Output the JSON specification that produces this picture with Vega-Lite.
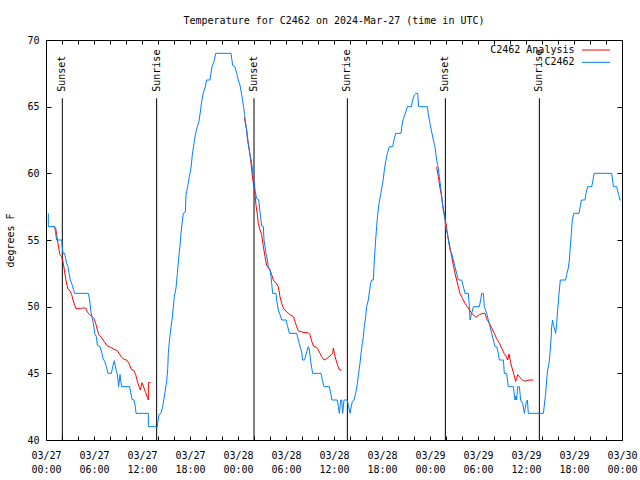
{
  "$schema": "https://vega.github.io/schema/vega-lite/v6.json",
  "width": 576,
  "height": 400,
  "autosize": {"type": "none"},
  "padding": {"left": 46, "top": 40, "right": 18, "bottom": 40},
  "background": "white",
  "title": {"text": "Temperature for C2462 on 2024-Mar-27 (time in UTC)", "font": "DejaVu Sans Mono", "fontSize": 10, "fontWeight": "normal", "color": "black", "anchor": "middle", "baseline": "alphabetic", "offset": 1},
  "config": {
    "view": {"stroke": "black", "strokeWidth": 1},
    "font": "DejaVu Sans Mono",
    "axis": {"labelFont": "DejaVu Sans Mono", "labelFontSize": 10, "labelColor": "black", "tickColor": "black", "domain": false, "grid": false, "titleFont": "DejaVu Sans Mono", "titleFontSize": 10, "titleFontWeight": "normal", "titleColor": "black"}
  },
  "datasets": {
    "sun": [
      {"hour": 2.04, "event": "Sunset"},
      {"hour": 13.83, "event": "Sunrise"},
      {"hour": 26.0, "event": "Sunset"},
      {"hour": 37.67, "event": "Sunrise"},
      {"hour": 49.92, "event": "Sunset"},
      {"hour": 61.67, "event": "Sunrise"}
    ],
    "obs": [
      {"series": "C2462 Analysis", "night": 1, "hour": 0.79, "temp": 56.05},
      {"series": "C2462 Analysis", "night": 1, "hour": 1.21, "temp": 55.9},
      {"series": "C2462 Analysis", "night": 1, "hour": 1.33, "temp": 55.4},
      {"series": "C2462 Analysis", "night": 1, "hour": 1.5, "temp": 54.75},
      {"series": "C2462 Analysis", "night": 1, "hour": 1.625, "temp": 54.25},
      {"series": "C2462 Analysis", "night": 1, "hour": 1.75, "temp": 53.9},
      {"series": "C2462 Analysis", "night": 1, "hour": 1.96, "temp": 53.75},
      {"series": "C2462 Analysis", "night": 1, "hour": 2.17, "temp": 53.25},
      {"series": "C2462 Analysis", "night": 1, "hour": 2.33, "temp": 52.6},
      {"series": "C2462 Analysis", "night": 1, "hour": 2.46, "temp": 52.1},
      {"series": "C2462 Analysis", "night": 1, "hour": 2.625, "temp": 51.6},
      {"series": "C2462 Analysis", "night": 1, "hour": 2.75, "temp": 51.3},
      {"series": "C2462 Analysis", "night": 1, "hour": 3.0, "temp": 51.2},
      {"series": "C2462 Analysis", "night": 1, "hour": 3.21, "temp": 50.9},
      {"series": "C2462 Analysis", "night": 1, "hour": 3.375, "temp": 50.5},
      {"series": "C2462 Analysis", "night": 1, "hour": 3.58, "temp": 50.1},
      {"series": "C2462 Analysis", "night": 1, "hour": 3.75, "temp": 49.85},
      {"series": "C2462 Analysis", "night": 1, "hour": 4.33, "temp": 49.85},
      {"series": "C2462 Analysis", "night": 1, "hour": 4.54, "temp": 49.9},
      {"series": "C2462 Analysis", "night": 1, "hour": 4.96, "temp": 49.9},
      {"series": "C2462 Analysis", "night": 1, "hour": 5.17, "temp": 49.6},
      {"series": "C2462 Analysis", "night": 1, "hour": 5.46, "temp": 49.4},
      {"series": "C2462 Analysis", "night": 1, "hour": 5.79, "temp": 49.25},
      {"series": "C2462 Analysis", "night": 1, "hour": 6.0, "temp": 49.1},
      {"series": "C2462 Analysis", "night": 1, "hour": 6.21, "temp": 48.75},
      {"series": "C2462 Analysis", "night": 1, "hour": 6.42, "temp": 48.25},
      {"series": "C2462 Analysis", "night": 1, "hour": 6.625, "temp": 47.9},
      {"series": "C2462 Analysis", "night": 1, "hour": 6.92, "temp": 47.7},
      {"series": "C2462 Analysis", "night": 1, "hour": 7.25, "temp": 47.4},
      {"series": "C2462 Analysis", "night": 1, "hour": 7.67, "temp": 47.05},
      {"series": "C2462 Analysis", "night": 1, "hour": 8.08, "temp": 46.95},
      {"series": "C2462 Analysis", "night": 1, "hour": 8.5, "temp": 46.8},
      {"series": "C2462 Analysis", "night": 1, "hour": 8.92, "temp": 46.7},
      {"series": "C2462 Analysis", "night": 1, "hour": 9.125, "temp": 46.5},
      {"series": "C2462 Analysis", "night": 1, "hour": 9.46, "temp": 46.2},
      {"series": "C2462 Analysis", "night": 1, "hour": 9.75, "temp": 46.05},
      {"series": "C2462 Analysis", "night": 1, "hour": 10.08, "temp": 46.0},
      {"series": "C2462 Analysis", "night": 1, "hour": 10.375, "temp": 45.75},
      {"series": "C2462 Analysis", "night": 1, "hour": 10.67, "temp": 45.3},
      {"series": "C2462 Analysis", "night": 1, "hour": 11.0, "temp": 45.2},
      {"series": "C2462 Analysis", "night": 1, "hour": 11.21, "temp": 44.9},
      {"series": "C2462 Analysis", "night": 1, "hour": 11.42, "temp": 44.4},
      {"series": "C2462 Analysis", "night": 1, "hour": 11.625, "temp": 44.0},
      {"series": "C2462 Analysis", "night": 1, "hour": 11.79, "temp": 43.75},
      {"series": "C2462 Analysis", "night": 1, "hour": 12.0, "temp": 44.3},
      {"series": "C2462 Analysis", "night": 1, "hour": 12.25, "temp": 43.9},
      {"series": "C2462 Analysis", "night": 1, "hour": 12.46, "temp": 43.55},
      {"series": "C2462 Analysis", "night": 1, "hour": 12.67, "temp": 43.2},
      {"series": "C2462 Analysis", "night": 1, "hour": 12.79, "temp": 43.0},
      {"series": "C2462 Analysis", "night": 1, "hour": 12.8, "temp": 44.3},
      {"series": "C2462 Analysis", "night": 1, "hour": 13.08, "temp": 44.3},
      {"series": "C2462 Analysis", "night": 2, "hour": 24.79, "temp": 64.2},
      {"series": "C2462 Analysis", "night": 2, "hour": 25.08, "temp": 63.25},
      {"series": "C2462 Analysis", "night": 2, "hour": 25.29, "temp": 62.25},
      {"series": "C2462 Analysis", "night": 2, "hour": 25.5, "temp": 61.4},
      {"series": "C2462 Analysis", "night": 2, "hour": 25.71, "temp": 60.3},
      {"series": "C2462 Analysis", "night": 2, "hour": 25.83, "temp": 59.6},
      {"series": "C2462 Analysis", "night": 2, "hour": 26.0, "temp": 59.0},
      {"series": "C2462 Analysis", "night": 2, "hour": 26.125, "temp": 58.4},
      {"series": "C2462 Analysis", "night": 2, "hour": 26.25, "temp": 57.6},
      {"series": "C2462 Analysis", "night": 2, "hour": 26.42, "temp": 56.9},
      {"series": "C2462 Analysis", "night": 2, "hour": 26.54, "temp": 56.25},
      {"series": "C2462 Analysis", "night": 2, "hour": 26.75, "temp": 55.75},
      {"series": "C2462 Analysis", "night": 2, "hour": 26.96, "temp": 55.4},
      {"series": "C2462 Analysis", "night": 2, "hour": 27.17, "temp": 54.5},
      {"series": "C2462 Analysis", "night": 2, "hour": 27.375, "temp": 53.75},
      {"series": "C2462 Analysis", "night": 2, "hour": 27.58, "temp": 53.1},
      {"series": "C2462 Analysis", "night": 2, "hour": 27.79, "temp": 52.9},
      {"series": "C2462 Analysis", "night": 2, "hour": 28.0, "temp": 52.75},
      {"series": "C2462 Analysis", "night": 2, "hour": 28.21, "temp": 52.4},
      {"series": "C2462 Analysis", "night": 2, "hour": 28.42, "temp": 52.0},
      {"series": "C2462 Analysis", "night": 2, "hour": 28.83, "temp": 51.7},
      {"series": "C2462 Analysis", "night": 2, "hour": 29.04, "temp": 51.5},
      {"series": "C2462 Analysis", "night": 2, "hour": 29.25, "temp": 50.75},
      {"series": "C2462 Analysis", "night": 2, "hour": 29.46, "temp": 50.25},
      {"series": "C2462 Analysis", "night": 2, "hour": 29.67, "temp": 49.9},
      {"series": "C2462 Analysis", "night": 2, "hour": 30.08, "temp": 49.6},
      {"series": "C2462 Analysis", "night": 2, "hour": 30.5, "temp": 49.4},
      {"series": "C2462 Analysis", "night": 2, "hour": 30.92, "temp": 49.25},
      {"series": "C2462 Analysis", "night": 2, "hour": 31.125, "temp": 48.9},
      {"series": "C2462 Analysis", "night": 2, "hour": 31.33, "temp": 48.5},
      {"series": "C2462 Analysis", "night": 2, "hour": 31.54, "temp": 48.2},
      {"series": "C2462 Analysis", "night": 2, "hour": 31.96, "temp": 48.1},
      {"series": "C2462 Analysis", "night": 2, "hour": 32.375, "temp": 48.05},
      {"series": "C2462 Analysis", "night": 2, "hour": 32.79, "temp": 48.05},
      {"series": "C2462 Analysis", "night": 2, "hour": 33.0, "temp": 47.9},
      {"series": "C2462 Analysis", "night": 2, "hour": 33.21, "temp": 47.4},
      {"series": "C2462 Analysis", "night": 2, "hour": 33.42, "temp": 47.05},
      {"series": "C2462 Analysis", "night": 2, "hour": 33.83, "temp": 46.95},
      {"series": "C2462 Analysis", "night": 2, "hour": 34.04, "temp": 46.75},
      {"series": "C2462 Analysis", "night": 2, "hour": 34.25, "temp": 46.5},
      {"series": "C2462 Analysis", "night": 2, "hour": 34.46, "temp": 46.25},
      {"series": "C2462 Analysis", "night": 2, "hour": 34.75, "temp": 46.0},
      {"series": "C2462 Analysis", "night": 2, "hour": 35.08, "temp": 46.1},
      {"series": "C2462 Analysis", "night": 2, "hour": 35.5, "temp": 46.3},
      {"series": "C2462 Analysis", "night": 2, "hour": 35.83, "temp": 46.5},
      {"series": "C2462 Analysis", "night": 2, "hour": 35.92, "temp": 46.9},
      {"series": "C2462 Analysis", "night": 2, "hour": 36.04, "temp": 46.5},
      {"series": "C2462 Analysis", "night": 2, "hour": 36.25, "temp": 46.0},
      {"series": "C2462 Analysis", "night": 2, "hour": 36.46, "temp": 45.6},
      {"series": "C2462 Analysis", "night": 2, "hour": 36.67, "temp": 45.25},
      {"series": "C2462 Analysis", "night": 2, "hour": 36.96, "temp": 45.25},
      {"series": "C2462 Analysis", "night": 3, "hour": 48.83, "temp": 60.5},
      {"series": "C2462 Analysis", "night": 3, "hour": 49.04, "temp": 59.75},
      {"series": "C2462 Analysis", "night": 3, "hour": 49.25, "temp": 58.9},
      {"series": "C2462 Analysis", "night": 3, "hour": 49.46, "temp": 58.25},
      {"series": "C2462 Analysis", "night": 3, "hour": 49.67, "temp": 57.2},
      {"series": "C2462 Analysis", "night": 3, "hour": 49.875, "temp": 56.6},
      {"series": "C2462 Analysis", "night": 3, "hour": 50.0, "temp": 56.25},
      {"series": "C2462 Analysis", "night": 3, "hour": 50.17, "temp": 55.5},
      {"series": "C2462 Analysis", "night": 3, "hour": 50.42, "temp": 54.7},
      {"series": "C2462 Analysis", "night": 3, "hour": 50.71, "temp": 53.75},
      {"series": "C2462 Analysis", "night": 3, "hour": 50.92, "temp": 53.1},
      {"series": "C2462 Analysis", "night": 3, "hour": 51.125, "temp": 52.5},
      {"series": "C2462 Analysis", "night": 3, "hour": 51.33, "temp": 52.0},
      {"series": "C2462 Analysis", "night": 3, "hour": 51.54, "temp": 51.5},
      {"series": "C2462 Analysis", "night": 3, "hour": 51.75, "temp": 51.0},
      {"series": "C2462 Analysis", "night": 3, "hour": 52.08, "temp": 50.6},
      {"series": "C2462 Analysis", "night": 3, "hour": 52.375, "temp": 50.25},
      {"series": "C2462 Analysis", "night": 3, "hour": 52.79, "temp": 49.9},
      {"series": "C2462 Analysis", "night": 3, "hour": 53.21, "temp": 49.5},
      {"series": "C2462 Analysis", "night": 3, "hour": 53.75, "temp": 49.2},
      {"series": "C2462 Analysis", "night": 3, "hour": 54.17, "temp": 49.4},
      {"series": "C2462 Analysis", "night": 3, "hour": 54.58, "temp": 49.5},
      {"series": "C2462 Analysis", "night": 3, "hour": 54.875, "temp": 49.5},
      {"series": "C2462 Analysis", "night": 3, "hour": 55.08, "temp": 49.1},
      {"series": "C2462 Analysis", "night": 3, "hour": 55.42, "temp": 48.75},
      {"series": "C2462 Analysis", "night": 3, "hour": 55.71, "temp": 48.4},
      {"series": "C2462 Analysis", "night": 3, "hour": 56.04, "temp": 48.0},
      {"series": "C2462 Analysis", "night": 3, "hour": 56.33, "temp": 47.6},
      {"series": "C2462 Analysis", "night": 3, "hour": 56.67, "temp": 47.25},
      {"series": "C2462 Analysis", "night": 3, "hour": 56.96, "temp": 46.9},
      {"series": "C2462 Analysis", "night": 3, "hour": 57.25, "temp": 46.5},
      {"series": "C2462 Analysis", "night": 3, "hour": 57.5, "temp": 46.3},
      {"series": "C2462 Analysis", "night": 3, "hour": 57.71, "temp": 46.0},
      {"series": "C2462 Analysis", "night": 3, "hour": 57.875, "temp": 46.45},
      {"series": "C2462 Analysis", "night": 3, "hour": 58.08, "temp": 45.8},
      {"series": "C2462 Analysis", "night": 3, "hour": 58.33, "temp": 45.25},
      {"series": "C2462 Analysis", "night": 3, "hour": 58.5, "temp": 44.9},
      {"series": "C2462 Analysis", "night": 3, "hour": 58.71, "temp": 44.4},
      {"series": "C2462 Analysis", "night": 3, "hour": 58.83, "temp": 44.6},
      {"series": "C2462 Analysis", "night": 3, "hour": 58.96, "temp": 44.9},
      {"series": "C2462 Analysis", "night": 3, "hour": 59.17, "temp": 44.75},
      {"series": "C2462 Analysis", "night": 3, "hour": 59.46, "temp": 44.55},
      {"series": "C2462 Analysis", "night": 3, "hour": 59.79, "temp": 44.4},
      {"series": "C2462 Analysis", "night": 3, "hour": 60.08, "temp": 44.45},
      {"series": "C2462 Analysis", "night": 3, "hour": 60.5, "temp": 44.5},
      {"series": "C2462 Analysis", "night": 3, "hour": 60.92, "temp": 44.5},
      {"series": "C2462", "night": 0, "hour": 0.29, "temp": 57.0},
      {"series": "C2462", "night": 0, "hour": 0.29, "temp": 56.0},
      {"series": "C2462", "night": 0, "hour": 1.08, "temp": 56.0},
      {"series": "C2462", "night": 0, "hour": 1.2, "temp": 55.5},
      {"series": "C2462", "night": 0, "hour": 1.33, "temp": 55.0},
      {"series": "C2462", "night": 0, "hour": 1.96, "temp": 55.0},
      {"series": "C2462", "night": 0, "hour": 2.04, "temp": 54.5},
      {"series": "C2462", "night": 0, "hour": 2.13, "temp": 54.0},
      {"series": "C2462", "night": 0, "hour": 2.33, "temp": 54.0},
      {"series": "C2462", "night": 0, "hour": 2.46, "temp": 53.6},
      {"series": "C2462", "night": 0, "hour": 2.58, "temp": 53.25},
      {"series": "C2462", "night": 0, "hour": 2.75, "temp": 53.0},
      {"series": "C2462", "night": 0, "hour": 2.88, "temp": 52.5},
      {"series": "C2462", "night": 0, "hour": 3.04, "temp": 52.0},
      {"series": "C2462", "night": 0, "hour": 3.29, "temp": 51.6},
      {"series": "C2462", "night": 0, "hour": 3.42, "temp": 51.3},
      {"series": "C2462", "night": 0, "hour": 3.58, "temp": 51.0},
      {"series": "C2462", "night": 0, "hour": 5.29, "temp": 51.0},
      {"series": "C2462", "night": 0, "hour": 5.46, "temp": 50.5},
      {"series": "C2462", "night": 0, "hour": 5.58, "temp": 49.75},
      {"series": "C2462", "night": 0, "hour": 5.75, "temp": 49.2},
      {"series": "C2462", "night": 0, "hour": 5.92, "temp": 48.75},
      {"series": "C2462", "night": 0, "hour": 6.0, "temp": 48.4},
      {"series": "C2462", "night": 0, "hour": 6.08, "temp": 48.0},
      {"series": "C2462", "night": 0, "hour": 6.29, "temp": 47.75},
      {"series": "C2462", "night": 0, "hour": 6.42, "temp": 47.1},
      {"series": "C2462", "night": 0, "hour": 6.75, "temp": 47.0},
      {"series": "C2462", "night": 0, "hour": 6.96, "temp": 46.6},
      {"series": "C2462", "night": 0, "hour": 7.13, "temp": 46.1},
      {"series": "C2462", "night": 0, "hour": 7.33, "temp": 45.9},
      {"series": "C2462", "night": 0, "hour": 7.54, "temp": 45.5},
      {"series": "C2462", "night": 0, "hour": 7.75, "temp": 45.0},
      {"series": "C2462", "night": 0, "hour": 8.17, "temp": 45.0},
      {"series": "C2462", "night": 0, "hour": 8.38, "temp": 45.6},
      {"series": "C2462", "night": 0, "hour": 8.54, "temp": 45.95},
      {"series": "C2462", "night": 0, "hour": 8.71, "temp": 45.4},
      {"series": "C2462", "night": 0, "hour": 8.88, "temp": 45.0},
      {"series": "C2462", "night": 0, "hour": 9.0, "temp": 44.5},
      {"series": "C2462", "night": 0, "hour": 9.08, "temp": 44.0},
      {"series": "C2462", "night": 0, "hour": 9.25, "temp": 44.9},
      {"series": "C2462", "night": 0, "hour": 9.375, "temp": 44.3},
      {"series": "C2462", "night": 0, "hour": 9.46, "temp": 44.0},
      {"series": "C2462", "night": 0, "hour": 10.46, "temp": 44.0},
      {"series": "C2462", "night": 0, "hour": 10.58, "temp": 43.6},
      {"series": "C2462", "night": 0, "hour": 10.75, "temp": 43.05},
      {"series": "C2462", "night": 0, "hour": 11.0, "temp": 43.0},
      {"series": "C2462", "night": 0, "hour": 11.17, "temp": 42.5},
      {"series": "C2462", "night": 0, "hour": 11.25, "temp": 42.0},
      {"series": "C2462", "night": 0, "hour": 12.79, "temp": 42.0},
      {"series": "C2462", "night": 0, "hour": 12.8, "temp": 41.0},
      {"series": "C2462", "night": 0, "hour": 13.92, "temp": 41.0},
      {"series": "C2462", "night": 0, "hour": 13.95, "temp": 41.25},
      {"series": "C2462", "night": 0, "hour": 14.125, "temp": 41.9},
      {"series": "C2462", "night": 0, "hour": 14.375, "temp": 42.0},
      {"series": "C2462", "night": 0, "hour": 14.58, "temp": 42.5},
      {"series": "C2462", "night": 0, "hour": 14.75, "temp": 43.1},
      {"series": "C2462", "night": 0, "hour": 14.92, "temp": 43.75},
      {"series": "C2462", "night": 0, "hour": 15.08, "temp": 44.4},
      {"series": "C2462", "night": 0, "hour": 15.21, "temp": 45.25},
      {"series": "C2462", "night": 0, "hour": 15.29, "temp": 46.5},
      {"series": "C2462", "night": 0, "hour": 15.42, "temp": 47.4},
      {"series": "C2462", "night": 0, "hour": 15.58, "temp": 48.25},
      {"series": "C2462", "night": 0, "hour": 15.75, "temp": 49.0},
      {"series": "C2462", "night": 0, "hour": 15.875, "temp": 49.75},
      {"series": "C2462", "night": 0, "hour": 16.04, "temp": 50.75},
      {"series": "C2462", "night": 0, "hour": 16.25, "temp": 51.4},
      {"series": "C2462", "night": 0, "hour": 16.42, "temp": 52.5},
      {"series": "C2462", "night": 0, "hour": 16.58, "temp": 53.6},
      {"series": "C2462", "night": 0, "hour": 16.75, "temp": 54.6},
      {"series": "C2462", "night": 0, "hour": 16.875, "temp": 55.5},
      {"series": "C2462", "night": 0, "hour": 17.04, "temp": 56.4},
      {"series": "C2462", "night": 0, "hour": 17.17, "temp": 57.0},
      {"series": "C2462", "night": 0, "hour": 17.42, "temp": 57.1},
      {"series": "C2462", "night": 0, "hour": 17.5, "temp": 58.4},
      {"series": "C2462", "night": 0, "hour": 17.71, "temp": 59.0},
      {"series": "C2462", "night": 0, "hour": 17.92, "temp": 59.75},
      {"series": "C2462", "night": 0, "hour": 18.125, "temp": 60.4},
      {"series": "C2462", "night": 0, "hour": 18.29, "temp": 61.4},
      {"series": "C2462", "night": 0, "hour": 18.5, "temp": 62.25},
      {"series": "C2462", "night": 0, "hour": 18.67, "temp": 62.9},
      {"series": "C2462", "night": 0, "hour": 18.92, "temp": 63.5},
      {"series": "C2462", "night": 0, "hour": 19.125, "temp": 63.9},
      {"series": "C2462", "night": 0, "hour": 19.29, "temp": 64.6},
      {"series": "C2462", "night": 0, "hour": 19.46, "temp": 65.4},
      {"series": "C2462", "night": 0, "hour": 19.67, "temp": 66.05},
      {"series": "C2462", "night": 0, "hour": 19.875, "temp": 66.4},
      {"series": "C2462", "night": 0, "hour": 20.08, "temp": 67.0},
      {"series": "C2462", "night": 0, "hour": 20.5, "temp": 67.0},
      {"series": "C2462", "night": 0, "hour": 20.75, "temp": 68.0},
      {"series": "C2462", "night": 0, "hour": 21.0, "temp": 68.4},
      {"series": "C2462", "night": 0, "hour": 21.21, "temp": 69.0},
      {"series": "C2462", "night": 0, "hour": 23.125, "temp": 69.0},
      {"series": "C2462", "night": 0, "hour": 23.33, "temp": 68.1},
      {"series": "C2462", "night": 0, "hour": 23.625, "temp": 68.0},
      {"series": "C2462", "night": 0, "hour": 23.83, "temp": 67.5},
      {"series": "C2462", "night": 0, "hour": 24.04, "temp": 67.0},
      {"series": "C2462", "night": 0, "hour": 24.25, "temp": 66.6},
      {"series": "C2462", "night": 0, "hour": 24.46, "temp": 65.9},
      {"series": "C2462", "night": 0, "hour": 24.67, "temp": 65.1},
      {"series": "C2462", "night": 0, "hour": 24.83, "temp": 64.4},
      {"series": "C2462", "night": 0, "hour": 24.92, "temp": 63.9},
      {"series": "C2462", "night": 0, "hour": 25.08, "temp": 63.25},
      {"series": "C2462", "night": 0, "hour": 25.17, "temp": 62.6},
      {"series": "C2462", "night": 0, "hour": 25.33, "temp": 62.0},
      {"series": "C2462", "night": 0, "hour": 25.5, "temp": 61.4},
      {"series": "C2462", "night": 0, "hour": 25.71, "temp": 60.75},
      {"series": "C2462", "night": 0, "hour": 25.92, "temp": 59.75},
      {"series": "C2462", "night": 0, "hour": 26.04, "temp": 59.3},
      {"series": "C2462", "night": 0, "hour": 26.125, "temp": 58.75},
      {"series": "C2462", "night": 0, "hour": 26.33, "temp": 58.1},
      {"series": "C2462", "night": 0, "hour": 26.6, "temp": 58.0},
      {"series": "C2462", "night": 0, "hour": 26.75, "temp": 57.1},
      {"series": "C2462", "night": 0, "hour": 26.875, "temp": 56.5},
      {"series": "C2462", "night": 0, "hour": 26.96, "temp": 56.05},
      {"series": "C2462", "night": 0, "hour": 27.17, "temp": 56.0},
      {"series": "C2462", "night": 0, "hour": 27.25, "temp": 55.0},
      {"series": "C2462", "night": 0, "hour": 27.375, "temp": 54.5},
      {"series": "C2462", "night": 0, "hour": 27.5, "temp": 54.0},
      {"series": "C2462", "night": 0, "hour": 27.67, "temp": 53.5},
      {"series": "C2462", "night": 0, "hour": 27.79, "temp": 53.0},
      {"series": "C2462", "night": 0, "hour": 28.0, "temp": 52.75},
      {"series": "C2462", "night": 0, "hour": 28.125, "temp": 52.25},
      {"series": "C2462", "night": 0, "hour": 28.21, "temp": 51.75},
      {"series": "C2462", "night": 0, "hour": 28.33, "temp": 51.0},
      {"series": "C2462", "night": 0, "hour": 28.75, "temp": 51.0},
      {"series": "C2462", "night": 0, "hour": 28.83, "temp": 50.5},
      {"series": "C2462", "night": 0, "hour": 29.04, "temp": 49.75},
      {"series": "C2462", "night": 0, "hour": 29.25, "temp": 49.4},
      {"series": "C2462", "night": 0, "hour": 29.46, "temp": 49.0},
      {"series": "C2462", "night": 0, "hour": 30.0, "temp": 49.0},
      {"series": "C2462", "night": 0, "hour": 30.17, "temp": 48.6},
      {"series": "C2462", "night": 0, "hour": 30.42, "temp": 48.0},
      {"series": "C2462", "night": 0, "hour": 31.33, "temp": 48.0},
      {"series": "C2462", "night": 0, "hour": 31.54, "temp": 47.5},
      {"series": "C2462", "night": 0, "hour": 31.75, "temp": 47.0},
      {"series": "C2462", "night": 0, "hour": 31.96, "temp": 46.6},
      {"series": "C2462", "night": 0, "hour": 32.08, "temp": 46.0},
      {"series": "C2462", "night": 0, "hour": 32.33, "temp": 46.0},
      {"series": "C2462", "night": 0, "hour": 32.58, "temp": 46.6},
      {"series": "C2462", "night": 0, "hour": 32.79, "temp": 47.0},
      {"series": "C2462", "night": 0, "hour": 32.92, "temp": 46.75},
      {"series": "C2462", "night": 0, "hour": 33.08, "temp": 45.9},
      {"series": "C2462", "night": 0, "hour": 33.33, "temp": 45.0},
      {"series": "C2462", "night": 0, "hour": 34.375, "temp": 45.0},
      {"series": "C2462", "night": 0, "hour": 34.5, "temp": 44.6},
      {"series": "C2462", "night": 0, "hour": 34.75, "temp": 44.0},
      {"series": "C2462", "night": 0, "hour": 35.42, "temp": 44.0},
      {"series": "C2462", "night": 0, "hour": 35.58, "temp": 43.5},
      {"series": "C2462", "night": 0, "hour": 35.75, "temp": 43.0},
      {"series": "C2462", "night": 0, "hour": 36.42, "temp": 43.0},
      {"series": "C2462", "night": 0, "hour": 36.54, "temp": 42.5},
      {"series": "C2462", "night": 0, "hour": 36.67, "temp": 42.0},
      {"series": "C2462", "night": 0, "hour": 36.83, "temp": 43.0},
      {"series": "C2462", "night": 0, "hour": 36.96, "temp": 43.0},
      {"series": "C2462", "night": 0, "hour": 37.08, "temp": 42.0},
      {"series": "C2462", "night": 0, "hour": 37.25, "temp": 43.0},
      {"series": "C2462", "night": 0, "hour": 37.67, "temp": 43.0},
      {"series": "C2462", "night": 0, "hour": 37.83, "temp": 42.5},
      {"series": "C2462", "night": 0, "hour": 38.0, "temp": 42.0},
      {"series": "C2462", "night": 0, "hour": 38.125, "temp": 42.4},
      {"series": "C2462", "night": 0, "hour": 38.29, "temp": 42.9},
      {"series": "C2462", "night": 0, "hour": 38.5, "temp": 43.0},
      {"series": "C2462", "night": 0, "hour": 38.71, "temp": 43.5},
      {"series": "C2462", "night": 0, "hour": 38.92, "temp": 44.25},
      {"series": "C2462", "night": 0, "hour": 39.08, "temp": 45.0},
      {"series": "C2462", "night": 0, "hour": 39.25, "temp": 45.75},
      {"series": "C2462", "night": 0, "hour": 39.375, "temp": 46.5},
      {"series": "C2462", "night": 0, "hour": 39.54, "temp": 47.25},
      {"series": "C2462", "night": 0, "hour": 39.67, "temp": 47.75},
      {"series": "C2462", "night": 0, "hour": 39.79, "temp": 48.5},
      {"series": "C2462", "night": 0, "hour": 39.96, "temp": 49.25},
      {"series": "C2462", "night": 0, "hour": 40.08, "temp": 50.0},
      {"series": "C2462", "night": 0, "hour": 40.29, "temp": 50.5},
      {"series": "C2462", "night": 0, "hour": 40.42, "temp": 51.1},
      {"series": "C2462", "night": 0, "hour": 40.58, "temp": 51.75},
      {"series": "C2462", "night": 0, "hour": 40.71, "temp": 52.0},
      {"series": "C2462", "night": 0, "hour": 40.92, "temp": 52.0},
      {"series": "C2462", "night": 0, "hour": 41.04, "temp": 53.5},
      {"series": "C2462", "night": 0, "hour": 41.21, "temp": 55.0},
      {"series": "C2462", "night": 0, "hour": 41.33, "temp": 56.0},
      {"series": "C2462", "night": 0, "hour": 41.46, "temp": 56.9},
      {"series": "C2462", "night": 0, "hour": 41.625, "temp": 57.75},
      {"series": "C2462", "night": 0, "hour": 41.83, "temp": 58.4},
      {"series": "C2462", "night": 0, "hour": 42.0, "temp": 59.0},
      {"series": "C2462", "night": 0, "hour": 42.17, "temp": 59.6},
      {"series": "C2462", "night": 0, "hour": 42.29, "temp": 60.25},
      {"series": "C2462", "night": 0, "hour": 42.46, "temp": 60.9},
      {"series": "C2462", "night": 0, "hour": 42.67, "temp": 61.5},
      {"series": "C2462", "night": 0, "hour": 42.92, "temp": 62.0},
      {"series": "C2462", "night": 0, "hour": 43.33, "temp": 62.0},
      {"series": "C2462", "night": 0, "hour": 43.5, "temp": 62.5},
      {"series": "C2462", "night": 0, "hour": 43.71, "temp": 63.0},
      {"series": "C2462", "night": 0, "hour": 44.375, "temp": 63.0},
      {"series": "C2462", "night": 0, "hour": 44.5, "temp": 63.6},
      {"series": "C2462", "night": 0, "hour": 44.67, "temp": 64.1},
      {"series": "C2462", "night": 0, "hour": 44.92, "temp": 64.5},
      {"series": "C2462", "night": 0, "hour": 45.17, "temp": 65.0},
      {"series": "C2462", "night": 0, "hour": 45.67, "temp": 65.0},
      {"series": "C2462", "night": 0, "hour": 45.83, "temp": 65.5},
      {"series": "C2462", "night": 0, "hour": 46.08, "temp": 65.9},
      {"series": "C2462", "night": 0, "hour": 46.25, "temp": 66.0},
      {"series": "C2462", "night": 0, "hour": 46.46, "temp": 66.0},
      {"series": "C2462", "night": 0, "hour": 46.58, "temp": 65.0},
      {"series": "C2462", "night": 0, "hour": 47.67, "temp": 65.0},
      {"series": "C2462", "night": 0, "hour": 47.79, "temp": 64.4},
      {"series": "C2462", "night": 0, "hour": 48.0, "temp": 63.75},
      {"series": "C2462", "night": 0, "hour": 48.21, "temp": 63.1},
      {"series": "C2462", "night": 0, "hour": 48.42, "temp": 62.5},
      {"series": "C2462", "night": 0, "hour": 48.625, "temp": 62.0},
      {"series": "C2462", "night": 0, "hour": 48.83, "temp": 61.0},
      {"series": "C2462", "night": 0, "hour": 49.0, "temp": 60.5},
      {"series": "C2462", "night": 0, "hour": 49.17, "temp": 59.75},
      {"series": "C2462", "night": 0, "hour": 49.375, "temp": 58.75},
      {"series": "C2462", "night": 0, "hour": 49.58, "temp": 57.6},
      {"series": "C2462", "night": 0, "hour": 49.79, "temp": 57.0},
      {"series": "C2462", "night": 0, "hour": 49.875, "temp": 56.6},
      {"series": "C2462", "night": 0, "hour": 50.0, "temp": 55.75},
      {"series": "C2462", "night": 0, "hour": 50.17, "temp": 55.5},
      {"series": "C2462", "night": 0, "hour": 50.29, "temp": 55.0},
      {"series": "C2462", "night": 0, "hour": 50.5, "temp": 54.25},
      {"series": "C2462", "night": 0, "hour": 50.71, "temp": 54.0},
      {"series": "C2462", "night": 0, "hour": 50.92, "temp": 53.5},
      {"series": "C2462", "night": 0, "hour": 51.125, "temp": 53.0},
      {"series": "C2462", "night": 0, "hour": 51.33, "temp": 52.5},
      {"series": "C2462", "night": 0, "hour": 51.54, "temp": 52.0},
      {"series": "C2462", "night": 0, "hour": 51.96, "temp": 52.0},
      {"series": "C2462", "night": 0, "hour": 52.17, "temp": 51.5},
      {"series": "C2462", "night": 0, "hour": 52.375, "temp": 51.0},
      {"series": "C2462", "night": 0, "hour": 52.79, "temp": 51.0},
      {"series": "C2462", "night": 0, "hour": 52.92, "temp": 50.0},
      {"series": "C2462", "night": 0, "hour": 53.0, "temp": 49.0},
      {"series": "C2462", "night": 0, "hour": 53.21, "temp": 49.5},
      {"series": "C2462", "night": 0, "hour": 53.42, "temp": 50.0},
      {"series": "C2462", "night": 0, "hour": 54.17, "temp": 50.0},
      {"series": "C2462", "night": 0, "hour": 54.33, "temp": 50.5},
      {"series": "C2462", "night": 0, "hour": 54.46, "temp": 51.0},
      {"series": "C2462", "night": 0, "hour": 54.67, "temp": 51.0},
      {"series": "C2462", "night": 0, "hour": 54.79, "temp": 50.0},
      {"series": "C2462", "night": 0, "hour": 55.08, "temp": 49.5},
      {"series": "C2462", "night": 0, "hour": 55.29, "temp": 49.0},
      {"series": "C2462", "night": 0, "hour": 55.5, "temp": 48.5},
      {"series": "C2462", "night": 0, "hour": 55.71, "temp": 48.0},
      {"series": "C2462", "night": 0, "hour": 55.92, "temp": 47.5},
      {"series": "C2462", "night": 0, "hour": 56.125, "temp": 47.0},
      {"series": "C2462", "night": 0, "hour": 56.33, "temp": 47.0},
      {"series": "C2462", "night": 0, "hour": 56.54, "temp": 46.5},
      {"series": "C2462", "night": 0, "hour": 56.67, "temp": 46.0},
      {"series": "C2462", "night": 0, "hour": 57.17, "temp": 46.0},
      {"series": "C2462", "night": 0, "hour": 57.29, "temp": 45.0},
      {"series": "C2462", "night": 0, "hour": 57.58, "temp": 45.0},
      {"series": "C2462", "night": 0, "hour": 57.79, "temp": 44.0},
      {"series": "C2462", "night": 0, "hour": 58.42, "temp": 44.0},
      {"series": "C2462", "night": 0, "hour": 58.625, "temp": 43.0},
      {"series": "C2462", "night": 0, "hour": 58.75, "temp": 43.3},
      {"series": "C2462", "night": 0, "hour": 58.83, "temp": 43.0},
      {"series": "C2462", "night": 0, "hour": 58.96, "temp": 44.0},
      {"series": "C2462", "night": 0, "hour": 59.17, "temp": 44.0},
      {"series": "C2462", "night": 0, "hour": 59.33, "temp": 43.0},
      {"series": "C2462", "night": 0, "hour": 59.58, "temp": 42.75},
      {"series": "C2462", "night": 0, "hour": 59.79, "temp": 42.0},
      {"series": "C2462", "night": 0, "hour": 60.0, "temp": 42.75},
      {"series": "C2462", "night": 0, "hour": 60.17, "temp": 43.0},
      {"series": "C2462", "night": 0, "hour": 60.29, "temp": 42.0},
      {"series": "C2462", "night": 0, "hour": 62.17, "temp": 42.0},
      {"series": "C2462", "night": 0, "hour": 62.29, "temp": 42.6},
      {"series": "C2462", "night": 0, "hour": 62.46, "temp": 43.5},
      {"series": "C2462", "night": 0, "hour": 62.58, "temp": 44.5},
      {"series": "C2462", "night": 0, "hour": 62.71, "temp": 45.25},
      {"series": "C2462", "night": 0, "hour": 62.875, "temp": 45.75},
      {"series": "C2462", "night": 0, "hour": 63.0, "temp": 46.5},
      {"series": "C2462", "night": 0, "hour": 63.125, "temp": 47.5},
      {"series": "C2462", "night": 0, "hour": 63.21, "temp": 48.5},
      {"series": "C2462", "night": 0, "hour": 63.33, "temp": 49.0},
      {"series": "C2462", "night": 0, "hour": 63.42, "temp": 48.6},
      {"series": "C2462", "night": 0, "hour": 63.54, "temp": 48.4},
      {"series": "C2462", "night": 0, "hour": 63.71, "temp": 48.0},
      {"series": "C2462", "night": 0, "hour": 63.83, "temp": 48.75},
      {"series": "C2462", "night": 0, "hour": 63.96, "temp": 49.75},
      {"series": "C2462", "night": 0, "hour": 64.125, "temp": 51.0},
      {"series": "C2462", "night": 0, "hour": 64.29, "temp": 52.0},
      {"series": "C2462", "night": 0, "hour": 64.96, "temp": 52.0},
      {"series": "C2462", "night": 0, "hour": 65.08, "temp": 52.4},
      {"series": "C2462", "night": 0, "hour": 65.29, "temp": 52.9},
      {"series": "C2462", "night": 0, "hour": 65.42, "temp": 53.5},
      {"series": "C2462", "night": 0, "hour": 65.54, "temp": 54.5},
      {"series": "C2462", "night": 0, "hour": 65.67, "temp": 55.5},
      {"series": "C2462", "night": 0, "hour": 65.79, "temp": 56.5},
      {"series": "C2462", "night": 0, "hour": 65.96, "temp": 57.0},
      {"series": "C2462", "night": 0, "hour": 66.625, "temp": 57.0},
      {"series": "C2462", "night": 0, "hour": 66.79, "temp": 57.5},
      {"series": "C2462", "night": 0, "hour": 66.92, "temp": 58.0},
      {"series": "C2462", "night": 0, "hour": 67.375, "temp": 58.0},
      {"series": "C2462", "night": 0, "hour": 67.5, "temp": 58.5},
      {"series": "C2462", "night": 0, "hour": 67.71, "temp": 59.0},
      {"series": "C2462", "night": 0, "hour": 68.21, "temp": 59.0},
      {"series": "C2462", "night": 0, "hour": 68.375, "temp": 59.5},
      {"series": "C2462", "night": 0, "hour": 68.5, "temp": 60.0},
      {"series": "C2462", "night": 0, "hour": 70.71, "temp": 60.0},
      {"series": "C2462", "night": 0, "hour": 70.92, "temp": 59.0},
      {"series": "C2462", "night": 0, "hour": 71.33, "temp": 59.0},
      {"series": "C2462", "night": 0, "hour": 71.54, "temp": 58.5},
      {"series": "C2462", "night": 0, "hour": 71.75, "temp": 58.0},
      {"series": "C2462", "night": 0, "hour": 71.875, "temp": 58.0}
    ]
  },
  "layer": [
    {
      "data": {"name": "sun"},
      "mark": {"type": "rule", "color": "black", "strokeWidth": 1},
      "encoding": {
        "x": {"field": "hour", "type": "quantitative", "scale": {"domain": [0, 72], "nice": false, "zero": false},
              "axis": {"orient": "top", "values": [0,2,4,6,8,10,12,14,16,18,20,22,24,26,28,30,32,34,36,38,40,42,44,46,48,50,52,54,56,58,60,62,64,66,68,70,72], "labels": false, "tickSize": -4, "title": null}},
        "y": {"datum": 40, "type": "quantitative", "scale": {"domain": [40, 70], "nice": false, "zero": false},
              "axis": {"orient": "right", "values": [40,45,50,55,60,65,70], "labels": false, "tickSize": -5, "title": null}},
        "y2": {"datum": 65.63}
      }
    },
    {
      "data": {"name": "sun"},
      "mark": {"type": "text", "angle": 270, "align": "left", "baseline": "middle", "font": "DejaVu Sans Mono", "fontSize": 10, "color": "black"},
      "encoding": {
        "x": {"field": "hour", "type": "quantitative", "scale": {"domain": [0, 72], "nice": false, "zero": false}, "axis": null},
        "y": {"datum": 66.12, "type": "quantitative", "scale": {"domain": [40, 70], "nice": false, "zero": false}, "axis": null},
        "text": {"field": "event"}
      }
    },
    {
      "data": {"name": "obs"},
      "mark": {"type": "line", "strokeWidth": 1, "interpolate": "linear"},
      "encoding": {
        "x": {"field": "hour", "type": "quantitative", "scale": {"domain": [0, 72], "nice": false, "zero": false},
              "axis": {"orient": "bottom", "values": [0,2,4,6,8,10,12,14,16,18,20,22,24,26,28,30,32,34,36,38,40,42,44,46,48,50,52,54,56,58,60,62,64,66,68,70,72],
                       "labelExpr": "datum.value % 6 == 0 ? ['03/' + (27 + floor(datum.value / 24)), ((datum.value % 24) < 10 ? '0' : '') + (datum.value % 24) + ':00'] : ''",
                       "tickSize": -4, "labelPadding": 14, "labelLineHeight": 14, "labelOverlap": false, "labelFlush": false, "labelBound": false, "title": null}},
        "y": {"field": "temp", "type": "quantitative", "scale": {"domain": [40, 70], "nice": false, "zero": false},
              "axis": {"orient": "left", "values": [40,45,50,55,60,65,70], "tickSize": -5, "labelPadding": 12, "title": "degrees F", "titleX": -36, "titleY": 200, "titleAngle": 270, "titleAlign": "center", "titleBaseline": "middle"}},
        "color": {"field": "series", "type": "nominal",
                  "scale": {"domain": ["C2462 Analysis", "C2462"], "range": ["#ff0000", "#0080ff"]},
                  "legend": {"title": null, "orient": "none", "legendX": 544.5, "legendY": 4.5, "symbolType": "M-3,0H3", "symbolSize": 87, "symbolStrokeWidth": 1, "labelAlign": "right", "labelOffset": -27, "labelFont": "DejaVu Sans Mono", "labelFontSize": 10, "labelColor": "black", "rowPadding": 1.3, "padding": 0}},
        "detail": {"field": "night", "type": "nominal"},
        "order": {"value": null}
      }
    }
  ],
  "resolve": {"axis": {"x": "independent", "y": "independent"}}
}
